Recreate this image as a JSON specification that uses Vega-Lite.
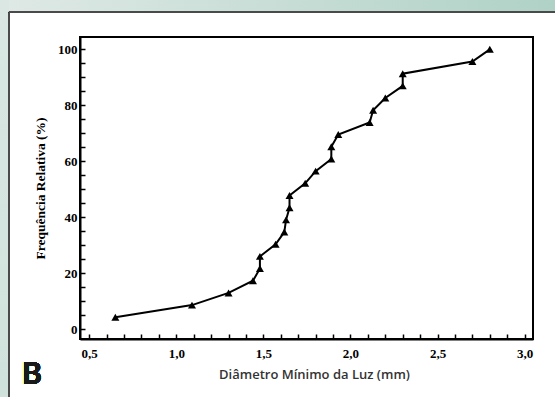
{
  "$schema": "https://vega.github.io/schema/vega-lite/v6.json",
  "width": 453,
  "height": 302,
  "autosize": {"type": "none"},
  "padding": {"left": 80, "top": 37, "right": 22, "bottom": 58},
  "background": "white",
  "config": {
    "view": {"stroke": null},
    "axis": {"grid": false, "domain": true, "domainColor": "black", "domainWidth": 2, "tickColor": "black", "tickWidth": 1.5, "labelColor": "black", "titleColor": "black", "labelOverlap": false, "zindex": 2}
  },
  "resolve": {"axis": {"x": "independent", "y": "independent"}},
  "data": {"values": [
    {"i": 1, "d": 0.65, "f": 4.35},
    {"i": 2, "d": 1.09, "f": 8.70},
    {"i": 3, "d": 1.30, "f": 13.04},
    {"i": 4, "d": 1.44, "f": 17.39},
    {"i": 5, "d": 1.48, "f": 21.74},
    {"i": 6, "d": 1.48, "f": 26.09},
    {"i": 7, "d": 1.57, "f": 30.43},
    {"i": 8, "d": 1.62, "f": 34.78},
    {"i": 9, "d": 1.63, "f": 39.13},
    {"i": 10, "d": 1.65, "f": 43.48},
    {"i": 11, "d": 1.65, "f": 47.83},
    {"i": 12, "d": 1.74, "f": 52.17},
    {"i": 13, "d": 1.80, "f": 56.52},
    {"i": 14, "d": 1.89, "f": 60.87},
    {"i": 15, "d": 1.89, "f": 65.22},
    {"i": 16, "d": 1.93, "f": 69.57},
    {"i": 17, "d": 2.11, "f": 73.91},
    {"i": 18, "d": 2.13, "f": 78.26},
    {"i": 19, "d": 2.20, "f": 82.61},
    {"i": 20, "d": 2.30, "f": 86.96},
    {"i": 21, "d": 2.30, "f": 91.30},
    {"i": 22, "d": 2.70, "f": 95.65},
    {"i": 23, "d": 2.80, "f": 100}
  ]},
  "layer": [
    {
      "mark": {"type": "line", "color": "black", "strokeWidth": 2},
      "encoding": {
        "x": {"field": "d", "type": "quantitative",
          "scale": {"domain": [0.447, 3.048], "nice": false, "zero": false},
          "axis": {
            "title": "Diâmetro Mínimo da Luz (mm)",
            "titleFont": "Open Sans", "titleFontSize": 13, "titleFontWeight": 600, "titleColor": "#333333", "titlePadding": 8, "titleX": 234,
            "values": [0.5,0.6,0.7,0.8,0.9,1.0,1.1,1.2,1.3,1.4,1.5,1.6,1.7,1.8,1.9,2.0,2.1,2.2,2.3,2.4,2.5,2.6,2.7,2.8,2.9,3.0],
            "labelExpr": "abs(datum.value*2 - round(datum.value*2)) < 0.001 ? replace(format(datum.value, '.1f'), '.', ',') : ''",
            "labelFont": "Liberation Serif", "labelFontSize": 13, "labelFontWeight": "bold", "labelPadding": 13, "labelOverlap": false,
            "tickSize": -5
          }
        },
        "y": {"field": "f", "type": "quantitative",
          "scale": {"domain": [-3.4, 104.4], "nice": false, "zero": false},
          "axis": {
            "title": "Frequência Relativa (%)",
            "titleFont": "Liberation Serif", "titleFontSize": 13.5, "titleFontWeight": "bold", "titlePadding": 10,
            "values": [0,5,10,15,20,25,30,35,40,45,50,55,60,65,70,75,80,85,90,95,100],
            "labelExpr": "datum.value % 20 === 0 ? format(datum.value, 'd') : ''",
            "labelFont": "Liberation Serif", "labelFontSize": 13, "labelFontWeight": "bold", "labelPadding": 8, "labelOverlap": false,
            "tickSize": -5
          }
        },
        "order": {"field": "i"}
      }
    },
    {
      "mark": {"type": "point", "shape": "triangle-up", "filled": true, "color": "black", "size": 64, "opacity": 1},
      "encoding": {
        "x": {"field": "d", "type": "quantitative", "axis": null},
        "y": {"field": "f", "type": "quantitative", "axis": null}
      }
    },
    {
      "mark": {"type": "rect", "clip": false, "fill": "transparent", "stroke": "black", "strokeWidth": 2},
      "encoding": {
        "x": {"datum": 0.447, "type": "quantitative", "axis": null},
        "x2": {"datum": 3.048},
        "y": {"datum": -3.4, "type": "quantitative", "axis": null},
        "y2": {"datum": 104.4}
      }
    },
    {
      "mark": {"type": "rect", "clip": false, "color": {"gradient": "linear", "x1": 0, "y1": 0, "x2": 1, "y2": 0, "stops": [{"offset": 0, "color": "#dfe9e6"}, {"offset": 1, "color": "#b0d2c6"}]}},
      "encoding": {
        "x": {"datum": -0.012, "type": "quantitative", "axis": null},
        "x2": {"datum": 3.174},
        "y": {"datum": 113.32, "type": "quantitative", "axis": null},
        "y2": {"datum": 117.6}
      }
    },
    {
      "mark": {"type": "rect", "clip": false, "color": {"gradient": "linear", "x1": 0, "y1": 0, "x2": 0, "y2": 1, "stops": [{"offset": 0, "color": "#dae7e3"}, {"offset": 1, "color": "#d0e2dc"}]}},
      "encoding": {
        "x": {"datum": -0.012, "type": "quantitative", "axis": null},
        "x2": {"datum": 0.0393},
        "y": {"datum": 117.6, "type": "quantitative", "axis": null},
        "y2": {"datum": -24.05}
      }
    },
    {
      "mark": {"type": "rule", "clip": false, "color": "#4a4a4a", "strokeWidth": 1},
      "encoding": {
        "x": {"datum": 0.0393, "type": "quantitative", "axis": null},
        "y": {"datum": 113.32, "type": "quantitative", "axis": null},
        "y2": {"datum": -24.05}
      }
    },
    {
      "mark": {"type": "rule", "clip": false, "color": "#4a4a4a", "strokeWidth": 1},
      "encoding": {
        "x": {"datum": 0.0393, "type": "quantitative", "axis": null},
        "x2": {"datum": 3.174},
        "y": {"datum": 113.32, "type": "quantitative", "axis": null}
      }
    },
    {
      "mark": {"type": "text", "clip": false, "text": "B", "font": "Lato", "fontSize": 30, "fontWeight": "bold", "color": "#1a1a1a", "align": "left", "baseline": "alphabetic"},
      "encoding": {
        "x": {"datum": 0.114, "type": "quantitative", "axis": null},
        "y": {"datum": -19.3, "type": "quantitative", "axis": null}
      }
    }
  ]
}
